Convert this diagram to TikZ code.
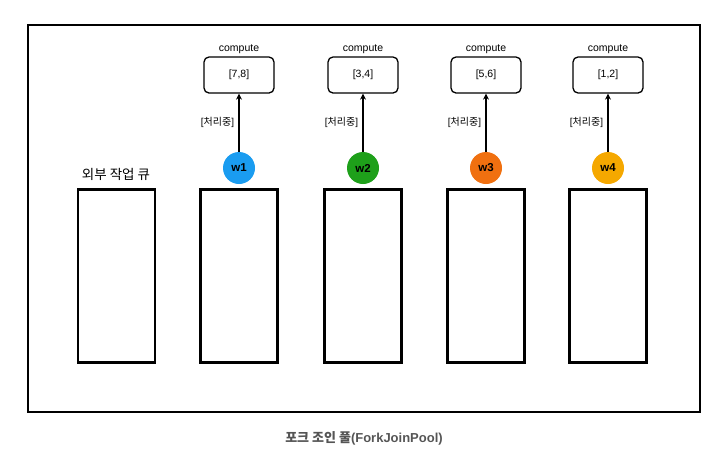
\documentclass[tikz,border=0pt]{standalone}
\usepackage{fontspec}
\setmainfont{Liberation Sans}
\newfontfamily\kor{Noto Sans CJK KR}
\usetikzlibrary{arrows.meta}
\definecolor{wblue}{HTML}{1A9CF0}
\definecolor{wgreen}{HTML}{1EA01A}
\definecolor{worange}{HTML}{F07010}
\definecolor{wamber}{HTML}{F5A800}
\definecolor{captgray}{HTML}{555555}
\begin{document}
\begin{tikzpicture}[x=1pt,y=-1pt,
  queuebox/.style={draw,line width=2.2pt,minimum width=77pt,minimum height=173pt,inner sep=0pt},
  workerdot/.style={circle,minimum size=32pt,inner sep=0pt,font=\bfseries\fontsize{11.5}{13}\selectfont},
  taskbox/.style={draw,line width=1.3pt,rounded corners=5pt,minimum width=70pt,minimum height=36pt,font=\fontsize{10.5}{12}\selectfont},
  toplabel/.style={font=\fontsize{10.5}{12}\selectfont},
  sidelabel/.style={font=\fontsize{10}{12}\selectfont},
  arr/.style={-{Stealth[length=6pt,width=6pt,open]},line width=1.2pt}
]
\useasboundingbox (0,0) rectangle (728,459);
\node[draw,line width=2pt,minimum width=672pt,minimum height=387pt,inner sep=0pt] (frame) at (364,218.5) {};
\node[queuebox] (ext) at (116.5,276) {};
\node[font=\kor\fontsize{13.5}{15}\selectfont] (extlbl) at (116,174) {외부 작업 큐};
\node[font=\bfseries\fontsize{13}{15}\selectfont,text=captgray] (caption) at (364,438) {{\kor\bfseries 포크 조인 풀}(ForkJoinPool)};
\foreach \i/\x/\c/\t in {1/239/wblue/{[7,8]},2/363/wgreen/{[3,4]},3/486/worange/{[5,6]},4/608/wamber/{[1,2]}}{
  \node[queuebox] (q\i) at (\x,276) {};
  \node[workerdot,fill=\c] (w\i) at (\x,168) {w\i};
  \node[taskbox] (t\i) at (\x,75) {\t};
  \node[toplabel,anchor=south,inner sep=2pt] (c\i) at (t\i.north) {compute};
  \draw[arr] (w\i.north) -- node[sidelabel,left=1pt] {[{\kor 처리중}]} (t\i.south);
}
\end{tikzpicture}
\end{document}
